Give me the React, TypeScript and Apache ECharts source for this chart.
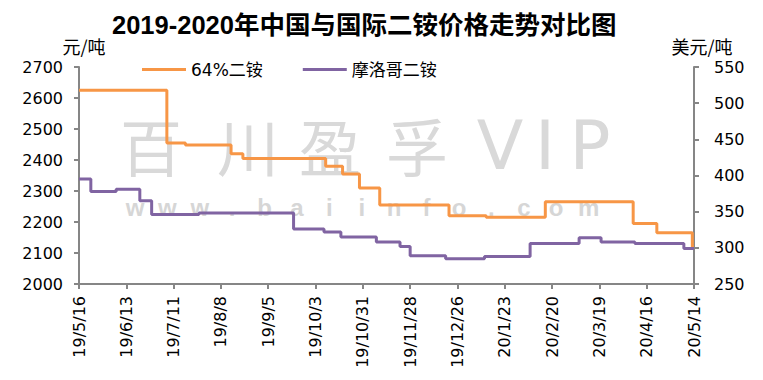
import React, { useEffect, useRef } from 'react';
import * as echarts from 'echarts';

const titleText = '2019-2020年中国与国际二铵价格走势对比图';
const seriesNames = ['64%二铵', '摩洛哥二铵'];
const leftAxisName = '元/吨';
const rightAxisName = '美元/吨';
const startDate = '2019-05-16';
const xTickLabels = [
  '19/5/16', '19/6/13', '19/7/11', '19/8/8', '19/9/5', '19/10/3', '19/10/31',
  '19/11/28', '19/12/26', '20/1/23', '20/2/20', '20/3/19', '20/4/16', '20/5/14',
];

// 64%二铵 (元/吨) – price change dates and values
const orangeDates = [
  '2019-05-16', '2019-07-07', '2019-07-18', '2019-08-14', '2019-08-21', '2019-10-09',
  '2019-10-19', '2019-10-29', '2019-11-10', '2019-12-21', '2020-01-12', '2020-02-16',
  '2020-04-08', '2020-04-22', '2020-05-13', '2020-05-14',
];
const orangeValues = [
  2625, 2455, 2448, 2420, 2405, 2380, 2355, 2310, 2255, 2220, 2215, 2265, 2195, 2165, 2120, 2120,
];

// 摩洛哥二铵 (美元/吨)
const purpleDates = [
  '2019-05-16', '2019-05-23', '2019-06-07', '2019-06-21', '2019-06-28', '2019-07-26',
  '2019-09-20', '2019-10-08', '2019-10-18', '2019-11-08', '2019-11-22', '2019-11-28',
  '2019-12-19', '2020-01-11', '2020-02-07', '2020-03-07', '2020-03-20', '2020-04-09',
  '2020-05-08', '2020-05-14',
];
const purpleValues = [
  395, 378, 381, 365, 346, 348, 326, 322, 315, 308, 302, 289, 285, 288, 306, 314, 308, 306, 299, 299,
];

const watermarkBig = ['百', '川', '盈', '孚', 'V', 'I', 'P'];
const watermarkSmall = 'www.baiinfo.com';

const DAY = 86400000;
const dayOffset = (d: string) => Math.round((Date.parse(d) - Date.parse(startDate)) / DAY);

export default function App() {
  const ref = useRef<HTMLDivElement>(null);
  useEffect(() => {
    if (!ref.current) return;
    const chart = echarts.init(ref.current, undefined, { renderer: 'svg' });
    const labelFont = { fontFamily: 'DejaVu Sans, Noto Sans CJK SC', fontSize: 16, color: '#000' };
    const axisLine = { show: true, lineStyle: { color: '#868686', width: 2 } };
    const axisTick = { show: true, length: 5, lineStyle: { color: '#868686', width: 2 } };

    const bigCenters = [151, 248, 330, 417, 500, 545, 590];
    const graphics: any[] = [];
    watermarkBig.forEach((ch, i) => {
      graphics.push({
        type: 'text', x: bigCenters[i], y: 145, silent: true, z: -10,
        style: {
          text: ch, align: 'center', verticalAlign: 'middle', lineHeight: 54,
          font: (i < 4 ? '62px "Noto Sans CJK SC"' : '68px "DejaVu Sans"'),
          fill: '#d9d9d9',
        },
      });
    });
    watermarkSmall.split('').forEach((ch, i) => {
      graphics.push({
        type: 'text', x: 135 + i * 32.4, y: 207, silent: true, z: -10,
        style: {
          text: ch, align: 'center', verticalAlign: 'middle', lineHeight: 18,
          font: 'bold 24px "Liberation Sans"', fill: '#d6d6d6',
        },
      });
    });

    chart.setOption({
      animation: false,
      title: {
        text: titleText, left: 107, top: 7,
        textStyle: { fontFamily: 'Liberation Sans, Noto Sans CJK SC', fontWeight: 'bold', fontSize: 25.5, color: '#000' },
      },
      legend: {
        data: seriesNames, left: 137, top: 56, icon: 'rect', itemWidth: 44, itemHeight: 3, itemGap: 40,
        textStyle: { fontFamily: 'DejaVu Sans, Noto Sans CJK SC', fontSize: 17, color: '#000' },
      },
      grid: { left: 79, right: 69, top: 67, bottom: 96, containLabel: false },
      graphic: graphics,
      xAxis: {
        type: 'value', min: 0, max: 364, interval: 28,
        axisLine, axisTick, splitLine: { show: false },
        axisLabel: {
          ...labelFont, rotate: 90, margin: 12,
          formatter: (v: number) => xTickLabels[Math.round(v / 28)] ?? '',
        },
      },
      yAxis: [
        {
          type: 'value', min: 2000, max: 2700, interval: 100, position: 'left',
          name: leftAxisName, nameLocation: 'end', nameGap: 12,
          nameTextStyle: { fontFamily: 'Noto Sans CJK SC', fontSize: 18, color: '#000', padding: [0, 0, 0, 10] },
          axisLine, axisTick, splitLine: { show: false },
          axisLabel: { ...labelFont, margin: 16, formatter: (v: number) => String(v) },
        },
        {
          type: 'value', min: 250, max: 550, interval: 50, position: 'right',
          name: rightAxisName, nameLocation: 'end', nameGap: 12,
          nameTextStyle: { fontFamily: 'Noto Sans CJK SC', fontSize: 18, color: '#000', padding: [0, 0, 0, 16] },
          axisLine, axisTick, splitLine: { show: false },
          axisLabel: { ...labelFont, margin: 20, formatter: (v: number) => String(v) },
        },
      ],
      series: [
        {
          name: seriesNames[0], type: 'line', yAxisIndex: 0, step: 'end', showSymbol: false,
          color: '#F79646', lineStyle: { width: 3, color: '#F79646' },
          data: orangeDates.map((d, i) => [dayOffset(d), orangeValues[i]]),
        },
        {
          name: seriesNames[1], type: 'line', yAxisIndex: 1, step: 'end', showSymbol: false,
          color: '#8064A2', lineStyle: { width: 3, color: '#8064A2' },
          data: purpleDates.map((d, i) => [dayOffset(d), purpleValues[i]]),
        },
      ],
    });
    return () => chart.dispose();
  }, []);
  return <div ref={ref} style={{ position: 'fixed', left: 0, top: 0, width: 763, height: 380, background: '#fff' }} />;
}
